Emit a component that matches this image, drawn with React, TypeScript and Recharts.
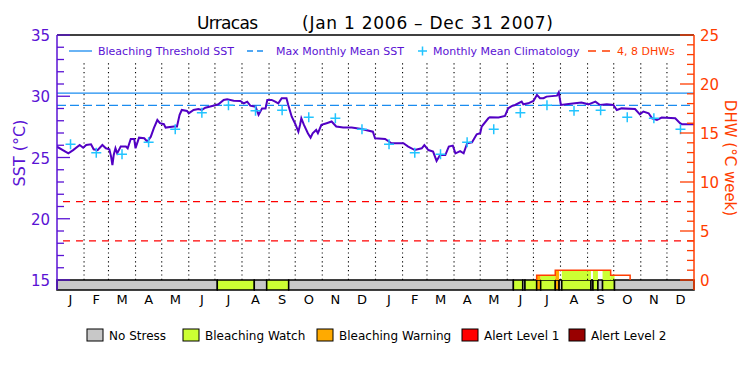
import React from "react";
import {
  ComposedChart,
  Line,
  Scatter,
  XAxis,
  YAxis,
  ReferenceLine,
  ReferenceArea,
} from "recharts";

// ---------- data ----------
const sstDays = [
  0, 13, 18.5, 26, 30, 33.5, 39, 42, 46.5, 52, 56, 60, 62, 63.5, 65, 67, 69, 73, 79, 81,
  84.5, 88.5, 90, 94, 100, 103.5, 107.5, 111, 115, 118, 122.5, 124.5, 134, 137.5, 140.5,
  143, 149, 151, 156.5, 162, 166, 170, 179, 185, 191, 195, 202.5, 210, 214, 218, 221.5,
  227.5, 231, 235, 239, 241, 246, 250, 253.6, 257.5, 263, 265, 269, 272.7, 276.6, 278.5,
  280, 283, 287.5, 290.6, 293, 297, 299, 303, 309, 314.7, 320, 328, 337.7, 349, 362,
  364.5, 376, 383.3, 391, 397, 402.5, 410, 418, 421, 425.6, 431, 435, 439, 445, 449,
  453.6, 456.6, 462, 466, 470, 475.6, 481, 485, 486.7, 494.3, 496, 506, 513.4, 517, 521,
  525, 532.5, 534.4, 540, 546, 550, 553.5, 557.5, 561, 573, 575, 577.5, 584, 593.5, 601,
  609, 617, 622.3, 630, 637.6, 641.5, 647, 662.4, 668, 672, 678, 682, 687.5, 693, 708.5,
  714, 716, 730,
];
const sstValues = [
  25.88, 25.34, 25.6, 26.02, 25.8, 26.02, 26.08, 25.67, 25.6, 26.02, 25.75, 25.67, 25.07,
  24.38, 25.2, 25.75, 25.34, 25.89, 25.89, 25.75, 26.51, 26.51, 25.75, 26.62, 26.57, 26.29,
  26.7, 27.39, 28.06, 27.8, 27.72, 27.44, 27.53, 27.53, 28.48, 28.88, 28.8, 28.61, 28.88,
  28.96, 28.88, 29.06, 29.23, 29.34, 29.7, 29.75, 29.64, 29.62, 29.42, 29.56, 29.23, 29.15,
  28.48, 29.01, 29.01, 29.7, 29.7, 29.56, 29.42, 29.84, 29.84, 29.29, 28.33, 27.8, 27.11,
  27.66, 28.2, 27.66, 26.98, 26.62, 26.98, 27.25, 26.98, 27.66, 27.8, 27.94, 27.53, 27.44,
  27.44, 27.33, 27.11, 26.57, 26.51, 26.16, 26.16, 26.16, 25.89, 25.61, 25.75, 26.02,
  25.61, 25.48, 24.72, 25.2, 25.2, 25.89, 25.97, 25.34, 25.52, 25.34, 26.16, 26.24, 26.89,
  26.98, 27.53, 28.2, 28.29, 28.26, 28.4, 29.01, 29.2, 29.29, 29.56, 29.34, 29.42, 29.62,
  30.11, 29.84, 29.84, 29.97, 30.05, 30.32, 29.29, 29.34, 29.42, 29.48, 29.34, 29.56,
  29.29, 29.34, 29.29, 28.88, 29.01, 28.96, 28.52, 28.75, 28.61, 28.2, 28.06, 28.26, 28.2,
  27.8, 27.72, 27.72,
];

const monthLetters = ["J", "F", "M", "A", "M", "J", "J", "A", "S", "O", "N", "D"];
const monthStartDays = [0, 31, 59, 90, 120, 151, 181, 212, 243, 273, 304, 334];
const yearLabels = ["2006", "2007"];
const climValues = [26.08, 25.39, 25.26, 26.24, 27.3, 28.66, 29.26, 28.82, 28.86, 28.28, 28.2, 27.3];
const MMM = 29.26;
const THRESHOLD = 30.26;
const DHW_LINES = [4, 8];

// stress level: 0 none, 1 watch, 2 warning, 3 alert1, 4 alert2
const stressStart = [0, 183.7, 226.1, 240.3, 265.5, 523, 533.7, 536.3, 549.7, 554.3, 571, 575.4, 578.5, 611.9, 614.2, 619.9, 625.2, 638.9];
const stressLevel = [0, 1, 0, 1, 0, 1, 0, 1, 2, 1, 2, 0, 1, 0, 1, 0, 1, 0];

const dhwStepDays = [549.7, 571, 634.5, 656.8];
const dhwStepValues = [0.48, 1.0, 0.48, 0];

const stressNames = ["No Stress", "Bleaching Watch", "Bleaching Warning", "Alert Level 1", "Alert Level 2"];
const stressColors = ["#c8c8c8", "#ccff33", "#ffaa00", "#ff0000", "#990000"];

// ---------- derived ----------
const TOTAL_DAYS = 730;
const SST_MIN = 15 - 10 / 12.25;
const DHW_MIN = -10 / 9.8;
const PL = 57;
const PR = 694;

const PURPLE = "#5a12d4";
const LINE_PURPLE = "#5200c4";
const BLUE = "#1a8cf0";
const CYAN = "#22c4ff";
const ORANGE = "#ff3d00";
const RED = "#ff0000";
const FONT = "DejaVu Sans";

const sstData = sstDays.map((d, i) => ({ day: d, sst: sstValues[i] }));

const allMonthStarts: number[] = [];
[0, 365].forEach((off) => monthStartDays.forEach((m) => allMonthStarts.push(m + off)));
const monthEnds = allMonthStarts.map((s, i) => (i + 1 < allMonthStarts.length ? allMonthStarts[i + 1] : TOTAL_DAYS));
const monthMids = allMonthStarts.map((s, i) => (s + monthEnds[i]) / 2);
const gridDays = allMonthStarts.filter((d) => d > 0);
const yearMids = [182.5, 547.5];

const climData = monthMids.map((d, i) => ({ day: d, clim: climValues[i % 12] }));

const stressSegs = stressStart.map((s, i) => ({
  x1: s,
  x2: i + 1 < stressStart.length ? stressStart[i + 1] : TOTAL_DAYS,
  level: stressLevel[i],
}));

const dhwLine: { day: number; dhw: number }[] = [{ day: dhwStepDays[0], dhw: 0 }];
dhwStepDays.forEach((d, i) => {
  if (i > 0) dhwLine.push({ day: d, dhw: dhwStepValues[i - 1] });
  dhwLine.push({ day: d, dhw: dhwStepValues[i] });
});

// fill pieces: stress segments intersected with DHW steps
const dhwFill: { x1: number; x2: number; h: number; level: number }[] = [];
stressSegs.forEach((seg) => {
  if (seg.level === 0) return;
  for (let i = 0; i < dhwStepDays.length - 1; i++) {
    const a = Math.max(seg.x1, dhwStepDays[i]);
    const b = Math.min(seg.x2, dhwStepDays[i + 1]);
    if (b > a && dhwStepValues[i] > 0) dhwFill.push({ x1: a, x2: b, h: dhwStepValues[i], level: seg.level });
  }
});

const sstTicks = Array.from({ length: 21 }, (_, i) => 15 + i);
const dhwTicks = Array.from({ length: 26 }, (_, i) => i);

// ---------- tick renderers ----------
const SstTick = (props: any) => {
  const v = props.payload.value;
  const y = props.payload.coordinate;
  const major = v % 5 === 0;
  return (
    <g>
      <line x1={PL} x2={PL + (major ? 13 : 7)} y1={y} y2={y} stroke={PURPLE} strokeWidth={1.3} />
      {major && (
        <text x={50} y={y + 6} textAnchor="end" fontSize={15} fontFamily={FONT} fill={PURPLE}>
          {v}
        </text>
      )}
    </g>
  );
};

const DhwTick = (props: any) => {
  const v = props.payload.value;
  const y = props.payload.coordinate;
  const major = v % 5 === 0;
  return (
    <g>
      <line x1={PR - (major ? 14 : 7)} x2={PR} y1={y} y2={y} stroke={ORANGE} strokeWidth={1.3} />
      {major && (
        <text x={700} y={y + 6} textAnchor="start" fontSize={15} fontFamily={FONT} fill={ORANGE}>
          {v}
        </text>
      )}
    </g>
  );
};

const MonthTick = (props: any) => (
  <text x={props.payload.coordinate} y={304} textAnchor="middle" fontSize={13} fontFamily={FONT} fill="#000">
    {monthLetters[props.index % 12]}
  </text>
);

const YearTick = (props: any) => (
  <text x={props.payload.coordinate} y={320} textAnchor="middle" fontSize={13} fontFamily={FONT} fill="#000">
    {yearLabels[props.index]}
  </text>
);

const PlusShape = (props: any) => {
  const { cx, cy } = props;
  if (cx == null || cy == null) return <g />;
  return <path d={`M${cx - 5},${cy}H${cx + 5}M${cx},${cy - 5}V${cy + 5}`} stroke={CYAN} strokeWidth={1.5} fill="none" />;
};

// ---------- overlay (title, legends, axis titles) ----------
const Overlay = () => {
  const legendBoxX = [87, 183, 317, 462, 569];
  return (
    <svg width={750} height={375} style={{ position: "absolute", left: 0, top: 0, pointerEvents: "none" }}>
      <text x={197} y={29} fontSize={17} fontFamily={FONT} fill="#000" textLength={61} lengthAdjust="spacing">Urracas</text>
      <text x={302} y={29} fontSize={17} fontFamily={FONT} fill="#000" textLength={251} lengthAdjust="spacing">(Jan 1 2006 – Dec 31 2007)</text>

      <line x1={69} x2={92} y1={51} y2={51} stroke={BLUE} strokeWidth={1.3} />
      <text x={98} y={55} fontSize={11} fontFamily={FONT} fill={PURPLE}>Bleaching Threshold SST</text>
      <line x1={247} x2={263} y1={51} y2={51} stroke={BLUE} strokeWidth={1.3} strokeDasharray="6 4" />
      <text x={276} y={55} fontSize={11} fontFamily={FONT} fill={PURPLE}>Max Monthly Mean SST</text>
      <path d="M418,51H427M422.5,46.5V55.5" stroke={CYAN} strokeWidth={1.5} />
      <text x={433} y={55} fontSize={11} fontFamily={FONT} fill={PURPLE}>Monthly Mean Climatology</text>
      <line x1={588} x2={612} y1={51} y2={51} stroke={ORANGE} strokeWidth={1.3} strokeDasharray="8 6" />
      <text x={617} y={55} fontSize={11} fontFamily={FONT} fill={ORANGE}>4, 8 DHWs</text>

      <text transform="translate(25,153) rotate(-90)" textAnchor="middle" fontSize={16} fontFamily={FONT} fill={PURPLE}>
        SST (°C)
      </text>
      <text transform="translate(725,158) rotate(90)" textAnchor="middle" fontSize={15} fontFamily={FONT} fill={ORANGE}>
        DHW (°C week)
      </text>

      {stressNames.map((n, i) => (
        <g key={n}>
          <rect x={legendBoxX[i]} y={329} width={16} height={12} fill={stressColors[i]} stroke="#000" strokeWidth={1} />
          <text x={legendBoxX[i] + 22} y={340} fontSize={12} fontFamily={FONT} fill="#000">
            {n}
          </text>
        </g>
      ))}
    </svg>
  );
};

export default function App() {
  return (
    <div style={{ position: "absolute", left: 0, top: 0, width: 750, height: 375, background: "#fff" }}>
      <ComposedChart width={750} height={375} margin={{ top: 35, right: 0, bottom: 45, left: 0 }}>
        <XAxis
          dataKey="day"
          type="number"
          domain={[0, TOTAL_DAYS]}
          allowDataOverflow
          ticks={monthMids}
          interval={0}
          axisLine={false}
          tickLine={false}
          tick={MonthTick}
          height={20}
        />
        <XAxis
          xAxisId="year"
          type="number"
          domain={[0, TOTAL_DAYS]}
          allowDataOverflow
          ticks={yearMids}
          interval={0}
          axisLine={false}
          tickLine={false}
          tick={YearTick}
          height={20}
        />
        <YAxis
          yAxisId="sst"
          orientation="left"
          width={57}
          type="number"
          domain={[SST_MIN, 35]}
          allowDataOverflow
          ticks={sstTicks}
          interval={0}
          tickLine={false}
          axisLine={{ stroke: PURPLE, strokeWidth: 1.5 }}
          tick={SstTick}
        />
        <YAxis
          yAxisId="dhw"
          orientation="right"
          width={56}
          type="number"
          domain={[DHW_MIN, 25]}
          allowDataOverflow
          ticks={dhwTicks}
          interval={0}
          tickLine={false}
          axisLine={{ stroke: ORANGE, strokeWidth: 1.5 }}
          tick={DhwTick}
        />

        {stressSegs.map((s, i) => (
          <ReferenceArea
            key={"st" + i}
            yAxisId="sst"
            x1={s.x1}
            x2={s.x2}
            y1={SST_MIN}
            y2={15}
            fill={stressColors[s.level]}
            fillOpacity={1}
            stroke="#000"
            strokeWidth={1.5}
          />
        ))}
        {dhwFill.map((f, i) => (
          <ReferenceArea
            key={"df" + i}
            yAxisId="dhw"
            x1={f.x1}
            x2={f.x2}
            y1={0}
            y2={f.h}
            fill={stressColors[f.level]}
            fillOpacity={1}
            stroke="none"
          />
        ))}
        {gridDays.map((d) => (
          <ReferenceLine
            key={"g" + d}
            yAxisId="sst"
            segment={[
              { x: d, y: 15 },
              { x: d, y: 32.8 },
            ]}
            stroke="#000"
            strokeWidth={1.1}
            strokeDasharray="1.2 3.2"
          />
        ))}
        <ReferenceLine yAxisId="sst" y={35} stroke="#000" strokeWidth={1.5} />
        <ReferenceLine yAxisId="sst" y={THRESHOLD} stroke={BLUE} strokeWidth={1.3} />
        <ReferenceLine yAxisId="sst" y={MMM} stroke={BLUE} strokeWidth={1.3} strokeDasharray="9 4" />
        {DHW_LINES.map((v) => (
          <ReferenceLine key={"dl" + v} yAxisId="dhw" y={v} stroke={RED} strokeWidth={1.3} strokeDasharray="7 6" />
        ))}

        <Line
          yAxisId="dhw"
          data={dhwLine}
          dataKey="dhw"
          type="linear"
          stroke={ORANGE}
          strokeWidth={1.5}
          dot={false}
          isAnimationActive={false}
        />
        <Line
          yAxisId="sst"
          data={sstData}
          dataKey="sst"
          type="linear"
          stroke={LINE_PURPLE}
          strokeWidth={2}
          dot={false}
          isAnimationActive={false}
        />
        <Scatter yAxisId="sst" data={climData} dataKey="clim" shape={PlusShape} isAnimationActive={false} />
      </ComposedChart>
      <Overlay />
    </div>
  );
}
